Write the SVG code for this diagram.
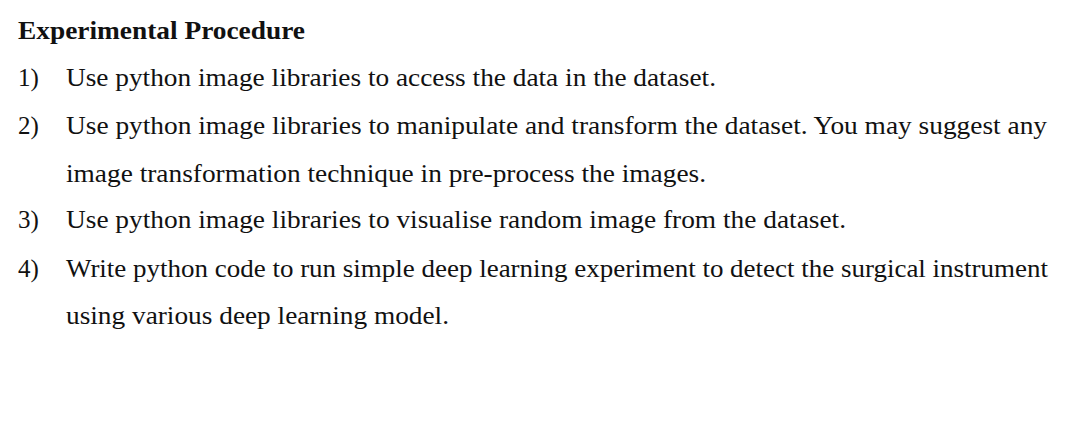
<svg xmlns="http://www.w3.org/2000/svg" width="1080" height="428" viewBox="0 0 1080 428">
<style>
text{font-family:"Liberation Serif","Times New Roman",serif;font-size:25px;fill:#111}
.t{font-weight:bold;font-size:26px}
</style>
<rect width="1080" height="428" fill="#fff"/>
<g id="procedure">
<text class="t" x="18" y="39" textLength="287" lengthAdjust="spacingAndGlyphs">Experimental Procedure</text>
<text x="18" y="86">1)</text>
<text x="66" y="86" textLength="650" lengthAdjust="spacingAndGlyphs">Use python image libraries to access the data in the dataset.</text>
<text x="18" y="134">2)</text>
<text x="66" y="134" textLength="981" lengthAdjust="spacingAndGlyphs">Use python image libraries to manipulate and transform the dataset. You may suggest any</text>
<text x="66" y="182" textLength="640" lengthAdjust="spacingAndGlyphs">image transformation technique in pre-process the images.</text>
<text x="18" y="228">3)</text>
<text x="66" y="228" textLength="780" lengthAdjust="spacingAndGlyphs">Use python image libraries to visualise random image from the dataset.</text>
<text x="18" y="277">4)</text>
<text x="66" y="277" textLength="982" lengthAdjust="spacingAndGlyphs">Write python code to run simple deep learning experiment to detect the surgical instrument</text>
<text x="66" y="324" textLength="383" lengthAdjust="spacingAndGlyphs">using various deep learning model.</text>
</g>
</svg>
